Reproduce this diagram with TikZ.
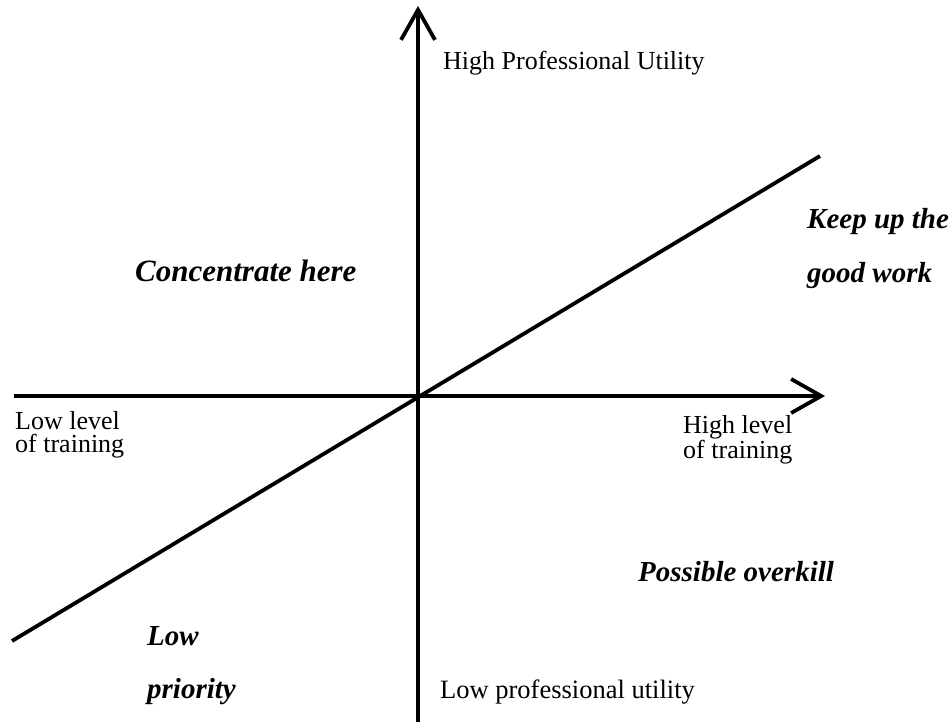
\documentclass[tikz,border=0pt]{standalone}
\usepackage{fontspec}
\setmainfont{Liberation Serif}
\usetikzlibrary{arrows.meta}
\begin{document}
\begin{tikzpicture}[x=1pt,y=-1pt,
  axis/.style={line width=3.8pt,-{Straight Barb[length=30pt,width=34pt,line width=3.8pt]}},
  diag/.style={line width=3.8pt},
  lab/.style={font=\fontsize{26}{23}\selectfont,anchor=base west,inner sep=0pt,align=left},
  quad/.style={font=\fontsize{29}{30}\selectfont\bfseries\itshape,anchor=base west,inner sep=0pt}]
\useasboundingbox (0,0) rectangle (952,722);
\coordinate (vb) at (418,722);
\coordinate (vt) at (418,6);
\coordinate (hl) at (14,396);
\coordinate (hr) at (825,396);
\coordinate (dl) at (12,641);
\coordinate (dr) at (820,156);
\draw[axis] (vb) -- (vt);
\draw[axis] (hl) -- (hr);
\draw[diag] (dl) -- (dr);
\node[lab] (hpu) at (443,70) {High Professional Utility};
\node[lab,font=\fontsize{26.5}{23}\selectfont] (lpu) at (440,698) {Low professional utility};
\node[lab] (llt) at (15,452) {Low level\\of training};
\node[lab] (hlt) at (683,458) {High level\\of training};
\node[quad,font=\fontsize{31}{30}\selectfont\bfseries\itshape] (ch) at (135,281) {Concentrate here};
\node[quad] (ku) at (807,228) {Keep up the};
\node[quad] (gw) at (807,282) {good work};
\node[quad] (po) at (638,581) {Possible overkill};
\node[quad] (lo) at (147,645) {Low};
\node[quad] (pr) at (147,698) {priority};
\end{tikzpicture}
\end{document}
